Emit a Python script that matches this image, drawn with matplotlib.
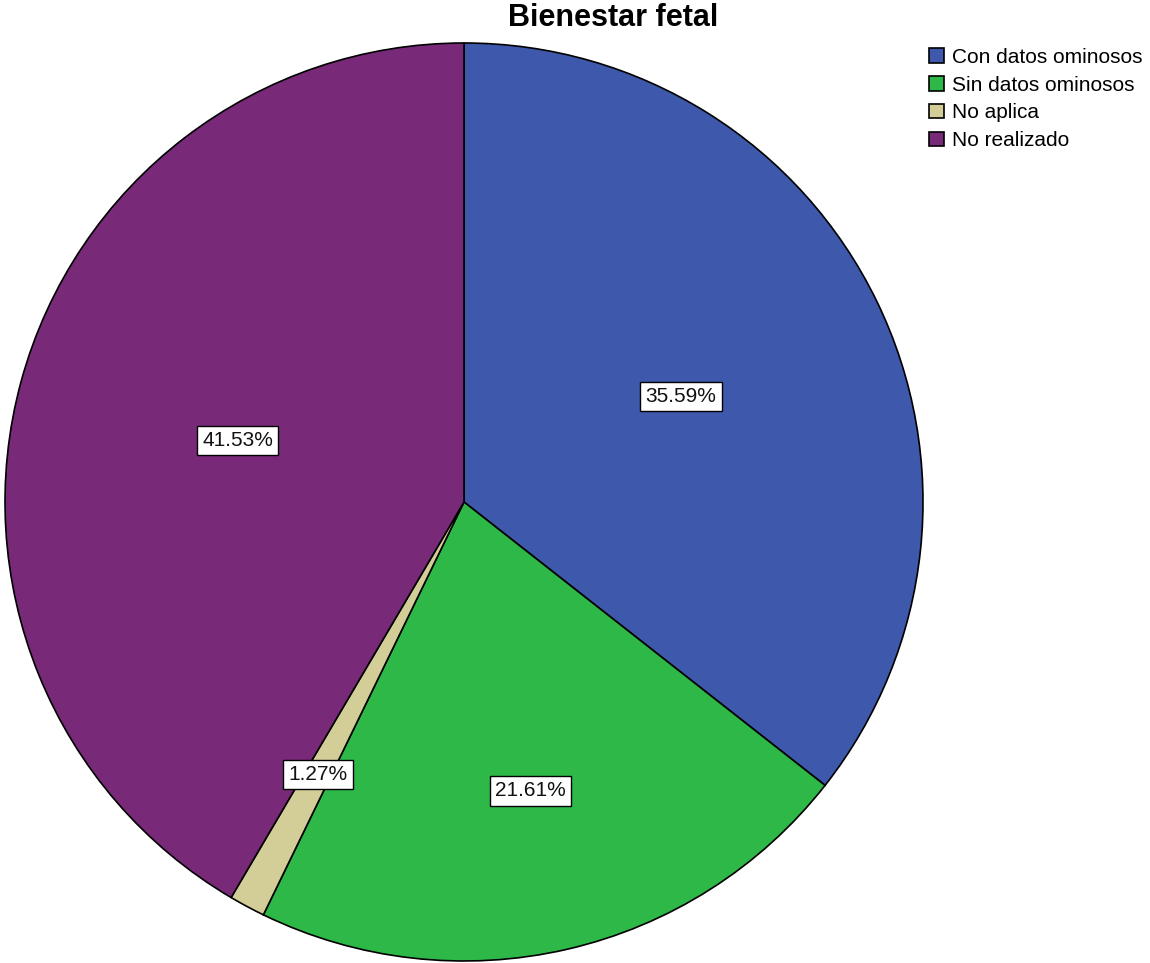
import numpy as np
import matplotlib.pyplot as plt

plt.rcParams['font.family'] = ['Liberation Sans', 'DejaVu Sans']

# data
categories = ["Con datos ominosos", "Sin datos ominosos", "No aplica", "No realizado"]
percents = [35.59, 21.61, 1.27, 41.53]
colors = ["#3E58AC", "#2EB848", "#D3CE97", "#782A79"]
label_dist = [0.526, 0.646, 0.673, 0.511]  # where each % box sits, fraction of radius

fig = plt.figure(figsize=(11.5, 9.63), dpi=100)
# pie centre ~ (464, 502) px, radius ~ 459 px
cx, cy, r = 464, 502, 459
W, H = 1150, 963
ax = fig.add_axes([(cx - r) / W, (H - cy - r) / H, 2 * r / W, 2 * r / H])

wedges, _ = ax.pie(percents, colors=colors, startangle=90, counterclock=False,
                   radius=1.0, wedgeprops=dict(edgecolor="black", linewidth=1.2))
ax.set_xlim(-1, 1)
ax.set_ylim(-1, 1)
ax.set_aspect("equal")
ax.axis("off")

for w, pct, d in zip(wedges, percents, label_dist):
    ang = np.deg2rad((w.theta1 + w.theta2) / 2)
    ax.text(d * np.cos(ang), d * np.sin(ang), f"{pct:.2f}%", ha="center", va="center",
            fontsize=15, color="#111111",
            bbox=dict(boxstyle="square,pad=0.25", facecolor="white", edgecolor="black", linewidth=1))

fig.text(613 / W, 1 - 18 / H, "Bienestar fetal", ha="center", va="center",
         fontsize=22, fontweight="bold")

fig.legend(wedges, categories, loc="upper left", bbox_to_anchor=(929 / W, 1 - 48 / H),
           frameon=False, fontsize=15, handlelength=0.7, handleheight=0.7,
           handletextpad=0.4, labelspacing=0.42, borderpad=0, borderaxespad=0)

fig.savefig("out.png", dpi=100)
